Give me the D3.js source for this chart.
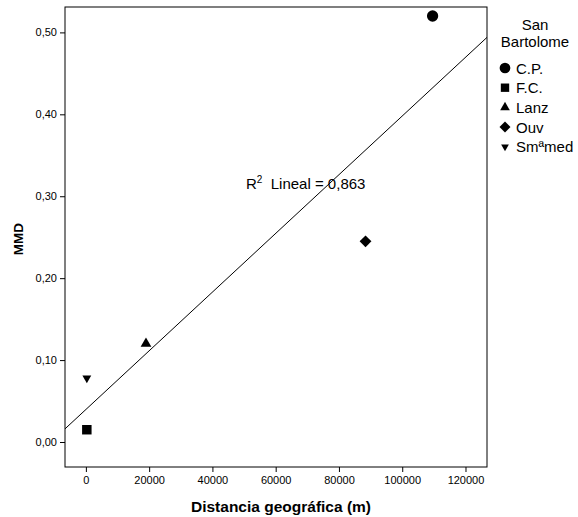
<!DOCTYPE html>
<html>
<head>
<meta charset="utf-8">
<script src="https://cdn.jsdelivr.net/npm/d3@7"></script>
<style>
  body { margin: 0; background: #fff; }
  svg text { font-family: "Liberation Sans", Arial, sans-serif; fill: #000; }
</style>
</head>
<body>
<div id="chart"></div>
<script>
// sites of San Bartolome: geographic distance (m) vs MMD
const sites = ['C.P.', 'F.C.', 'Lanz', 'Ouv', 'Smªmed'];
const distance = [109600, 300, 19000, 88400, 300];
const mmd = [0.520, 0.015, 0.120, 0.245, 0.078];
const xTicks = [0, 20000, 40000, 60000, 80000, 100000, 120000];
const yTicks = [0, 0.1, 0.2, 0.3, 0.4, 0.5];
const r2Label = '0,863';

const W = 578, H = 517;
const frame = { left: 65, right: 487, top: 7, bottom: 467 };

const svg = d3.select('#chart').append('svg')
  .attr('width', W)
  .attr('height', H);

const x = d3.scaleLinear()
  .domain([-6600, 126800])
  .range([frame.left, frame.right]);

const y = d3.scaleLinear()
  .domain([-0.0305, 0.531])
  .range([frame.bottom, frame.top]);

// marker shapes, one per site
const shapes = {
  'C.P.':   { type: d3.symbolCircle,   size: 100, rotate: 0 },
  'F.C.':   { type: d3.symbolSquare,   size: 90,  rotate: 0 },
  'Lanz':   { type: d3.symbolTriangle, size: 50,  rotate: 0 },
  'Ouv':    { type: d3.symbolSquare,   size: 70,  rotate: 45 },
  'Smªmed': { type: d3.symbolTriangle, size: 34,  rotate: 180 }
};
const legendShapes = {
  'C.P.':   { type: d3.symbolCircle,   size: 90,  rotate: 0 },
  'F.C.':   { type: d3.symbolSquare,   size: 70,  rotate: 0 },
  'Lanz':   { type: d3.symbolTriangle, size: 40,  rotate: 0 },
  'Ouv':    { type: d3.symbolSquare,   size: 60,  rotate: 45 },
  'Smªmed': { type: d3.symbolTriangle, size: 26,  rotate: 180 }
};

// axes
const xAxis = d3.axisBottom(x).tickValues(xTicks).tickSize(5).tickPadding(4)
  .tickFormat(d => String(d));
svg.append('g')
  .attr('transform', 'translate(0,' + frame.bottom + ')')
  .call(xAxis)
  .call(g => g.select('.domain').remove())
  .call(g => g.selectAll('text').attr('font-size', 11).attr('font-family', null));

const yAxis = d3.axisLeft(y).tickValues(yTicks).tickSize(5).tickPadding(3)
  .tickFormat(d => d3.format('.2f')(d).replace('.', ','));
svg.append('g')
  .attr('transform', 'translate(' + frame.left + ',0)')
  .call(yAxis)
  .call(g => g.select('.domain').remove())
  .call(g => g.selectAll('text').attr('font-size', 11).attr('font-family', null));

// plot frame
svg.append('rect')
  .attr('x', frame.left)
  .attr('y', frame.top)
  .attr('width', frame.right - frame.left)
  .attr('height', frame.bottom - frame.top)
  .attr('fill', 'none')
  .attr('stroke', '#000')
  .attr('stroke-width', 1);

// least squares fit
const mx = d3.mean(distance), my = d3.mean(mmd);
let sxy = 0, sxx = 0;
distance.forEach((d, i) => {
  sxy += (d - mx) * (mmd[i] - my);
  sxx += (d - mx) * (d - mx);
});
const slope = sxy / sxx;
const intercept = my - slope * mx;
const [x0, x1] = x.domain();

svg.append('line')
  .attr('x1', x(x0)).attr('y1', y(intercept + slope * x0))
  .attr('x2', x(x1)).attr('y2', y(intercept + slope * x1))
  .attr('stroke', '#000')
  .attr('stroke-width', 1);

// points
svg.selectAll('.pt')
  .data(sites)
  .enter()
  .append('path')
  .attr('class', 'pt')
  .attr('d', s => d3.symbol().type(shapes[s].type).size(shapes[s].size)())
  .attr('transform', (s, i) => 'translate(' + x(distance[i]) + ',' + y(mmd[i]) + ') rotate(' + shapes[s].rotate + ')')
  .attr('fill', '#000');

// R² annotation
const r2 = svg.append('text')
  .attr('x', 246)
  .attr('y', 189)
  .attr('font-size', 15);
r2.append('tspan').text('R');
r2.append('tspan').attr('font-size', 10).attr('dy', -6).text('2');
r2.append('tspan').attr('dy', 6).text('\u00a0 Lineal = ' + r2Label);

// axis titles
svg.append('text')
  .attr('x', (frame.left + frame.right) / 2 + 5)
  .attr('y', 512)
  .attr('text-anchor', 'middle')
  .attr('font-size', 15.5)
  .attr('font-weight', 'bold')
  .text('Distancia geográfica (m)');

svg.append('text')
  .attr('transform', 'translate(23,' + ((frame.top + frame.bottom) / 2 + 2) + ') rotate(-90)')
  .attr('text-anchor', 'middle')
  .attr('font-size', 13.5)
  .attr('font-weight', 'bold')
  .text('MMD');

// legend
const legend = svg.append('g');
legend.append('text')
  .attr('x', 535).attr('y', 30)
  .attr('text-anchor', 'middle')
  .attr('font-size', 15)
  .text('San');
legend.append('text')
  .attr('x', 535).attr('y', 47)
  .attr('text-anchor', 'middle')
  .attr('font-size', 15)
  .text('Bartolome');

const item = legend.selectAll('.item')
  .data(sites)
  .enter()
  .append('g')
  .attr('class', 'item')
  .attr('transform', (s, i) => 'translate(505,' + (68 + i * 19.7) + ')');

item.append('path')
  .attr('d', s => d3.symbol().type(legendShapes[s].type).size(legendShapes[s].size)())
  .attr('transform', s => 'rotate(' + legendShapes[s].rotate + ')')
  .attr('fill', '#000');

item.append('text')
  .attr('x', 11)
  .attr('y', 5.5)
  .attr('font-size', 15)
  .text(s => s);
</script>
</body>
</html>
